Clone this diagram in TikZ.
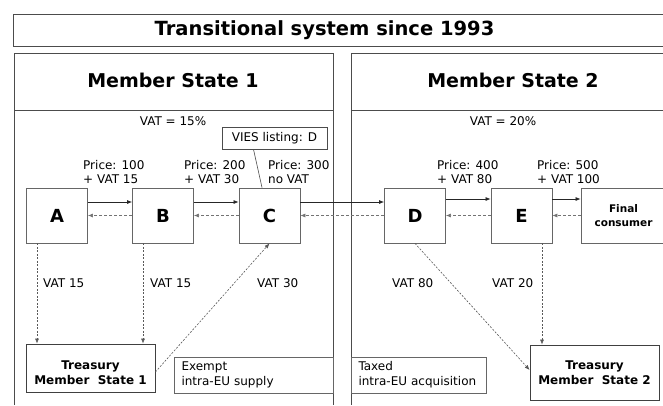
\documentclass[tikz,border=0pt]{standalone}
\usepackage{fontspec}
\setmainfont{DejaVu Sans}
\usetikzlibrary{arrows.meta}

\begin{document}
\begin{tikzpicture}[x=1pt,y=-1pt]
            \tikzstyle{frame} = [draw=black!70, line width=.8pt]
            \tikzstyle{heading} = [inner sep=0pt, font=\fontsize{19.5}{22}\selectfont\bfseries]
            \tikzstyle{party} = [draw=black!60, line width=.8pt, minimum width=61pt, minimum height=55pt,
                    font=\fontsize{18}{20}\selectfont\bfseries]
            \tikzstyle{treasury} = [draw=black!75, line width=.8pt, minimum width=129pt]
            \tikzstyle{bold} = [align=center, inner sep=0pt, font=\fontsize{12}{15}\selectfont\bfseries]
            \tikzstyle{note} = [draw=black!60, line width=.8pt, minimum height=36pt, inner xsep=7.5pt,
                    align=left, font=\fontsize{12}{15}\selectfont]
            \tikzstyle{txt} = [inner sep=0pt, anchor=west, align=left, font=\fontsize{12}{14}\selectfont]
            \tikzstyle{supply} = [line width=.7pt, draw=black!85, -{Latex[length=5pt,width=4pt]}]
            \tikzstyle{payment} = [line width=.6pt, draw=black!55, dash pattern=on 3pt off 2pt,
                    -{Latex[length=5pt,width=4pt]}]
            \tikzstyle{tax} = [line width=.6pt, draw=black!65, dash pattern=on 2pt off 1.5pt,
                    -{Latex[length=5pt,width=4pt]}]

            \useasboundingbox (0,0) rectangle (663,405);

            % frames
            \draw[frame] (663,14) -- (13,14) -- (13,46) -- (663,46);
            \draw[frame] (14,405) -- (14,53) -- (333,53) -- (333,405);
            \draw[frame] (14,110) -- (333,110);
            \draw[frame] (663,53) -- (351,53) -- (351,405);
            \draw[frame] (351,110) -- (663,110);

            \node [heading] (title) at (324.5,30) {Transitional system since 1993};
            \node [heading, font=\fontsize{19}{22}\selectfont\bfseries] (ms1) at (173,80) {Member State 1};
            \node [heading, font=\fontsize{19}{22}\selectfont\bfseries] (ms2) at (513,80) {Member State 2};
            \node [txt, anchor=center] (rate1) at (173,121) {VAT = 15\%};
            \node [txt, anchor=center] (rate2) at (503,121) {VAT = 20\%};

            % traders
            \node [party] (A) at (57,215.5) {A};
            \node [party] (B) at (163,215.5) {B};
            \node [party] (C) at (269.5,215.5) {C};
            \node [party] (D) at (415,215.5) {D};
            \node [party] (E) at (521.5,215.5) {E};
            \node [party, minimum width=85pt, align=center, font=\fontsize{10.5}{13.5}\selectfont\bfseries]
                (final) at (623.5,215.5) {Final\\consumer};

            \node [draw=black!70, line width=.8pt, minimum width=105pt, minimum height=22pt,
                font=\fontsize{12}{14}\selectfont] (vies) at (274.5,138) {VIES listing: D};
            \draw[frame, line width=.6pt] ([xshift=-21pt]vies.south) -- ([xshift=-7.5pt]C.north);

            \node [txt] (p1) at (83,172) {Price: 100\\+ VAT 15};
            \node [txt] (p2) at (184,172) {Price: 200\\+ VAT 30};
            \node [txt] (p3) at (268,172) {Price: 300\\no VAT};
            \node [txt] (p4) at (437,172) {Price: 400\\+ VAT 80};
            \node [txt] (p5) at (537,172) {Price: 500\\+ VAT 100};

            % goods one way, money the other
            \draw[supply] ([yshift=13.5pt]A.east) -- ([yshift=13.5pt]B.west);
            \draw[supply] ([yshift=13.5pt]B.east) -- ([yshift=13.5pt]C.west);
            \draw[supply] ([yshift=13.5pt]C.east) -- ([yshift=13.5pt]D.west);
            \draw[supply] ([yshift=16.5pt]D.east) -- ([yshift=16.5pt]E.west);
            \draw[supply] ([yshift=16.5pt]E.east) -- ([yshift=16.5pt]final.west);
            \draw[payment] (B.west) -- (A.east);
            \draw[payment] (C.west) -- (B.east);
            \draw[payment] (D.west) -- (C.east);
            \draw[payment] (E.west) -- (D.east);
            \draw[payment] (final.west) -- (E.east);

            % treasuries
            \node [treasury, minimum height=48pt] (T1) at (90.5,368) {};
            \node [bold] (t1) at ([yshift=-4.5pt]T1.center) {Treasury\\Member~ State 1};
            \node [treasury, minimum height=55pt] (T2) at (594.5,372.5) {};
            \node [bold] (t2) at (T2.center) {Treasury\\Member~ State 2};
            \node [note, minimum width=159pt, text width=144pt] (exempt) at (253.5,375) {Exempt\\intra-EU supply};
            \node [note, minimum width=135pt, text width=120pt] (taxed) at (418.5,375) {Taxed\\intra-EU acquisition};

            \draw[tax] ([xshift=-20pt]A.south) -- ([xshift=-20pt]A.south |- T1.north);
            \draw[tax] ([xshift=-20pt]B.south) -- ([xshift=-20pt]B.south |- T1.north);
            \draw[tax] ([yshift=-4pt]T1.east) -- (C.south);
            \draw[tax] (D.south) -- ([yshift=2.5pt]T2.west);
            \draw[tax] ([xshift=20.5pt]E.south) -- ([xshift=20.5pt]E.south |- T2.north);

            \node [txt] (v1) at (43,283) {VAT 15};
            \node [txt] (v2) at (150,283) {VAT 15};
            \node [txt] (v3) at (257,283) {VAT 30};
            \node [txt] (v4) at (392,283) {VAT 80};
            \node [txt] (v5) at (492,283) {VAT 20};
\end{tikzpicture}
\end{document}
